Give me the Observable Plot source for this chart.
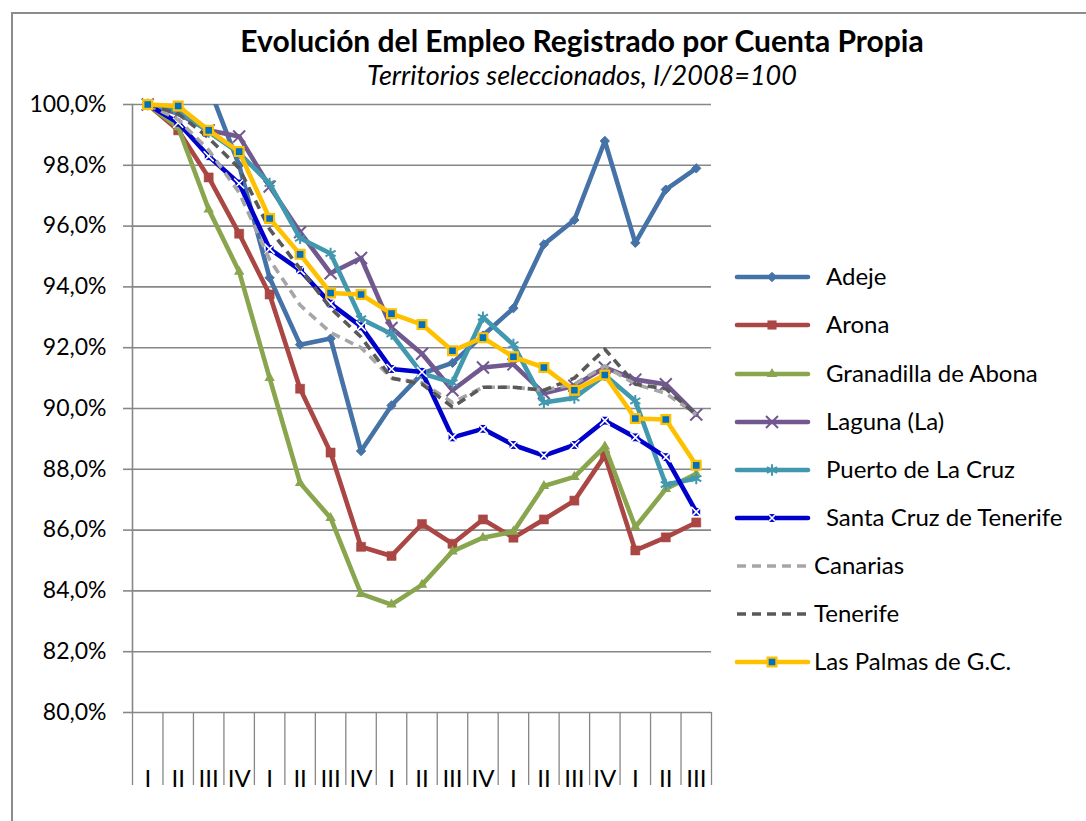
<!DOCTYPE html>
<html>
<head>
<meta charset="utf-8">
<script src="https://cdn.jsdelivr.net/npm/d3@7"></script>
<script src="https://cdn.jsdelivr.net/npm/@observablehq/plot@0.6"></script>
<style>
  body { margin: 0; background: #fff; font-family: Lato, "Open Sans", sans-serif; }
  #wrap { position: relative; width: 1086px; height: 821px; overflow: hidden; background: #fff; }
  #frame { position: absolute; left: 11px; top: 12px; width: 1200px; height: 900px; border-left: 2px solid #8c8c8c; border-top: 2px solid #8c8c8c; }
  #title { position: absolute; left: 0; width: 1164px; top: 22px; text-align: center; font-weight: bold; font-size: 30px; line-height: 36px; color: #000; }
  #subtitle { position: absolute; left: 0; width: 1164px; top: 59px; text-align: center; font-style: italic; font-size: 27px; line-height: 32px; color: #000; }
  #chart { position: absolute; left: 0; top: 90px; }
  #legend { position: absolute; left: 720px; top: 250px; }
</style>
</head>
<body>
<div id="wrap">
  <div id="frame"></div>
  <div id="title">Evolución del Empleo Registrado por Cuenta Propia</div>
  <div id="subtitle">Territorios seleccionados, I/2008=100</div>
  <div id="chart"></div>
  <div id="legend"></div>
</div>
<script>
// Quarter labels (2008 I .. 2012 III)
const quarters = ["I","II","III","IV","I","II","III","IV","I","II","III","IV","I","II","III","IV","I","II","III"];
const yTicks = [80, 82, 84, 86, 88, 90, 92, 94, 96, 98, 100];

const adeje      = [100, 100.4, 100.6, 98.0, 94.3, 92.1, 92.3, 88.6, 90.1, 91.15, 91.5, 92.4, 93.3, 95.4, 96.2, 98.8, 95.45, 97.2, 97.9];
const arona      = [100, 99.15, 97.6, 95.75, 93.75, 90.65, 88.55, 85.45, 85.15, 86.2, 85.55, 86.35, 85.75, 86.35, 86.97, 88.45, 85.33, 85.76, 86.25];
const granadilla = [100, 99.25, 96.55, 94.5, 91.0, 87.55, 86.4, 83.9, 83.55, 84.2, 85.3, 85.75, 85.95, 87.45, 87.75, 88.75, 86.1, 87.35, 87.85];
const laguna     = [100, 99.7, 99.15, 98.95, 97.3, 95.8, 94.45, 94.95, 92.65, 91.8, 90.6, 91.35, 91.45, 90.5, 90.75, 91.35, 90.95, 90.8, 89.8];
const puerto     = [100, 99.8, 99.1, 98.4, 97.4, 95.6, 95.1, 92.95, 92.45, 91.15, 90.85, 93.0, 92.1, 90.2, 90.35, 91.1, 90.25, 87.5, 87.7];
const santaCruz  = [100, 99.4, 98.3, 97.4, 95.25, 94.55, 93.45, 92.7, 91.3, 91.2, 89.05, 89.33, 88.8, 88.45, 88.8, 89.6, 89.05, 88.4, 86.6];
const canarias   = [100, 99.5, 98.5, 97.1, 94.9, 93.4, 92.5, 92.0, 91.0, 90.85, 90.2, 90.7, 90.7, 90.6, 90.8, 91.4, 90.8, 90.5, 89.8];
const tenerife   = [100, 99.7, 98.9, 97.9, 95.9, 94.6, 93.3, 92.35, 91.0, 90.8, 90.05, 90.7, 90.7, 90.6, 91.0, 91.95, 90.8, 90.65, 89.8];
const lasPalmas  = [100, 99.95, 99.15, 98.45, 96.25, 95.07, 93.8, 93.75, 93.12, 92.76, 91.9, 92.33, 91.7, 91.35, 90.6, 91.1, 89.67, 89.64, 88.13];

const series = [
  {name: "Adeje", values: adeje, color: "#4572A7", marker: "diamond"},
  {name: "Arona", values: arona, color: "#AA4643", marker: "square"},
  {name: "Granadilla de Abona", values: granadilla, color: "#89A54E", marker: "triangle"},
  {name: "Laguna (La)", values: laguna, color: "#71588F", marker: "times"},
  {name: "Puerto de La Cruz", values: puerto, color: "#4198AF", marker: "asterisk"},
  {name: "Santa Cruz de Tenerife", values: santaCruz, color: "#0000CC", marker: "boxx"},
  {name: "Canarias", values: canarias, color: "#A6A6A6", marker: "dash"},
  {name: "Tenerife", values: tenerife, color: "#595959", marker: "dash"},
  {name: "Las Palmas de G.C.", values: lasPalmas, color: "#FFC000", marker: "lp"}
];

const gray = "#878787";
const marks = [
  Plot.gridY(yTicks, {stroke: gray, strokeOpacity: 1, strokeWidth: 1.6}),
  Plot.frame({anchor: "left", stroke: gray, strokeWidth: 1.6}),
  Plot.axisY(yTicks, {label: null, tickSize: 9, tickPadding: 17, stroke: gray, strokeWidth: 1.6, fontSize: 23,
    tickFormat: d => d.toFixed(1).replace(".", ",") + "%"}),
  Plot.axisX(d3.range(20).map(k => k - 0.5), {label: null, tickSize: 73, stroke: gray, strokeWidth: 1.3, tickFormat: () => null}),
  Plot.axisX(d3.range(19), {label: null, tickSize: 0, tickPadding: 57, fontSize: 24, tickFormat: i => quarters[i]})
];

function markerMarks(pts, s) {
  const vis = pts.filter(d => d.v <= 100.05);
  switch (s.marker) {
    case "diamond": return [Plot.dot(vis, {x: "i", y: "v", symbol: "diamond2", r: 4.2, fill: s.color, stroke: s.color, strokeWidth: 1})];
    case "square": return [Plot.dot(vis, {x: "i", y: "v", symbol: "square2", r: 5.8, fill: s.color, stroke: s.color, strokeWidth: 0.5})];
    case "triangle": return [Plot.dot(vis, {x: "i", y: "v", symbol: "triangle2", r: 5, fill: s.color})];
    case "times": return [Plot.dot(vis, {x: "i", y: "v", symbol: "times", r: 5.5, stroke: s.color, strokeWidth: 2})];
    case "asterisk": return [Plot.dot(vis, {x: "i", y: "v", symbol: "asterisk", r: 5.5, stroke: s.color, strokeWidth: 2})];
    case "boxx": return [
      Plot.dot(vis, {x: "i", y: "v", symbol: "square2", r: 5, fill: s.color}),
      Plot.dot(vis, {x: "i", y: "v", symbol: "times", r: 4.6, stroke: "white", strokeWidth: 1.6})
    ];
    case "lp": return [Plot.dot(vis, {x: "i", y: "v", symbol: "square2", r: 5.6, fill: "#0070C0", stroke: "#FFC000", strokeWidth: 2.2})];
    default: return [];
  }
}

for (const s of series) {
  const pts = s.values.map((v, i) => ({i, v}));
  const dashed = s.marker === "dash";
  marks.push(Plot.line(pts, {x: "i", y: "v", stroke: s.color, strokeWidth: dashed ? 3.6 : 4.6,
    strokeDasharray: dashed ? "9,6" : null, strokeLinejoin: "round", strokeLinecap: dashed ? "butt" : "round",
    clip: s.name === "Adeje"}));
  marks.push(...markerMarks(pts, s));
}

const chart = Plot.plot({
  width: 1086,
  height: 731,
  marginTop: 14,
  marginBottom: 109,
  marginLeft: 132,
  marginRight: 375,
  style: {fontFamily: "Lato, 'Open Sans', sans-serif", fontSize: "20px", color: "#000", background: "transparent", overflow: "visible"},
  x: {type: "linear", domain: [-0.5, 18.5]},
  y: {domain: [80, 100]},
  marks
});
document.getElementById("chart").appendChild(chart);

// Legend
const lg = d3.select("#legend").append("svg").attr("width", 366).attr("height", 440)
  .style("font-family", "Lato, 'Open Sans', sans-serif");
const rowY = [27, 75, 124, 172, 220, 268, 316, 364, 412];
const symMap = {diamond: d3.symbolDiamond2, square: d3.symbolSquare2, triangle: d3.symbolTriangle2, times: d3.symbolTimes, asterisk: d3.symbolAsterisk};
series.forEach((s, k) => {
  const g = lg.append("g").attr("transform", `translate(0,${rowY[k]})`);
  const dashed = s.marker === "dash";
  g.append("line").attr("x1", 17).attr("x2", 88).attr("y1", 0).attr("y2", 0)
    .attr("stroke", s.color).attr("stroke-width", dashed ? 3.6 : 4.6)
    .attr("stroke-linecap", dashed ? "butt" : "round")
    .attr("stroke-dasharray", dashed ? "9,6" : null);
  const r2 = r => Math.PI * r * r;
  if (s.marker === "diamond") g.append("path").attr("transform", "translate(52,0)").attr("d", d3.symbol(symMap.diamond, r2(4.2))()).attr("fill", s.color).attr("stroke", s.color);
  if (s.marker === "square") g.append("path").attr("transform", "translate(52,0)").attr("d", d3.symbol(symMap.square, r2(5.8))()).attr("fill", s.color);
  if (s.marker === "triangle") g.append("path").attr("transform", "translate(52,0)").attr("d", d3.symbol(symMap.triangle, r2(5))()).attr("fill", s.color);
  if (s.marker === "times" || s.marker === "asterisk") g.append("path").attr("transform", "translate(52,0)").attr("d", d3.symbol(symMap[s.marker], r2(5.5))()).attr("fill", "none").attr("stroke", s.color).attr("stroke-width", 2);
  if (s.marker === "boxx") {
    g.append("path").attr("transform", "translate(52,0)").attr("d", d3.symbol(symMap.square, r2(5))()).attr("fill", s.color);
    g.append("path").attr("transform", "translate(52,0)").attr("d", d3.symbol(symMap.times, r2(4.6))()).attr("fill", "none").attr("stroke", "white").attr("stroke-width", 1.6);
  }
  if (s.marker === "lp") g.append("path").attr("transform", "translate(52,0)").attr("d", d3.symbol(symMap.square, r2(5.6))()).attr("fill", "#0070C0").attr("stroke", "#FFC000").attr("stroke-width", 2.2);
  g.append("text").attr("x", dashed || s.marker === "lp" ? 94 : 106).attr("y", 0).attr("dy", "0.35em")
    .attr("font-size", 24).attr("fill", "#000").text(s.name);
});
</script>
</body>
</html>
